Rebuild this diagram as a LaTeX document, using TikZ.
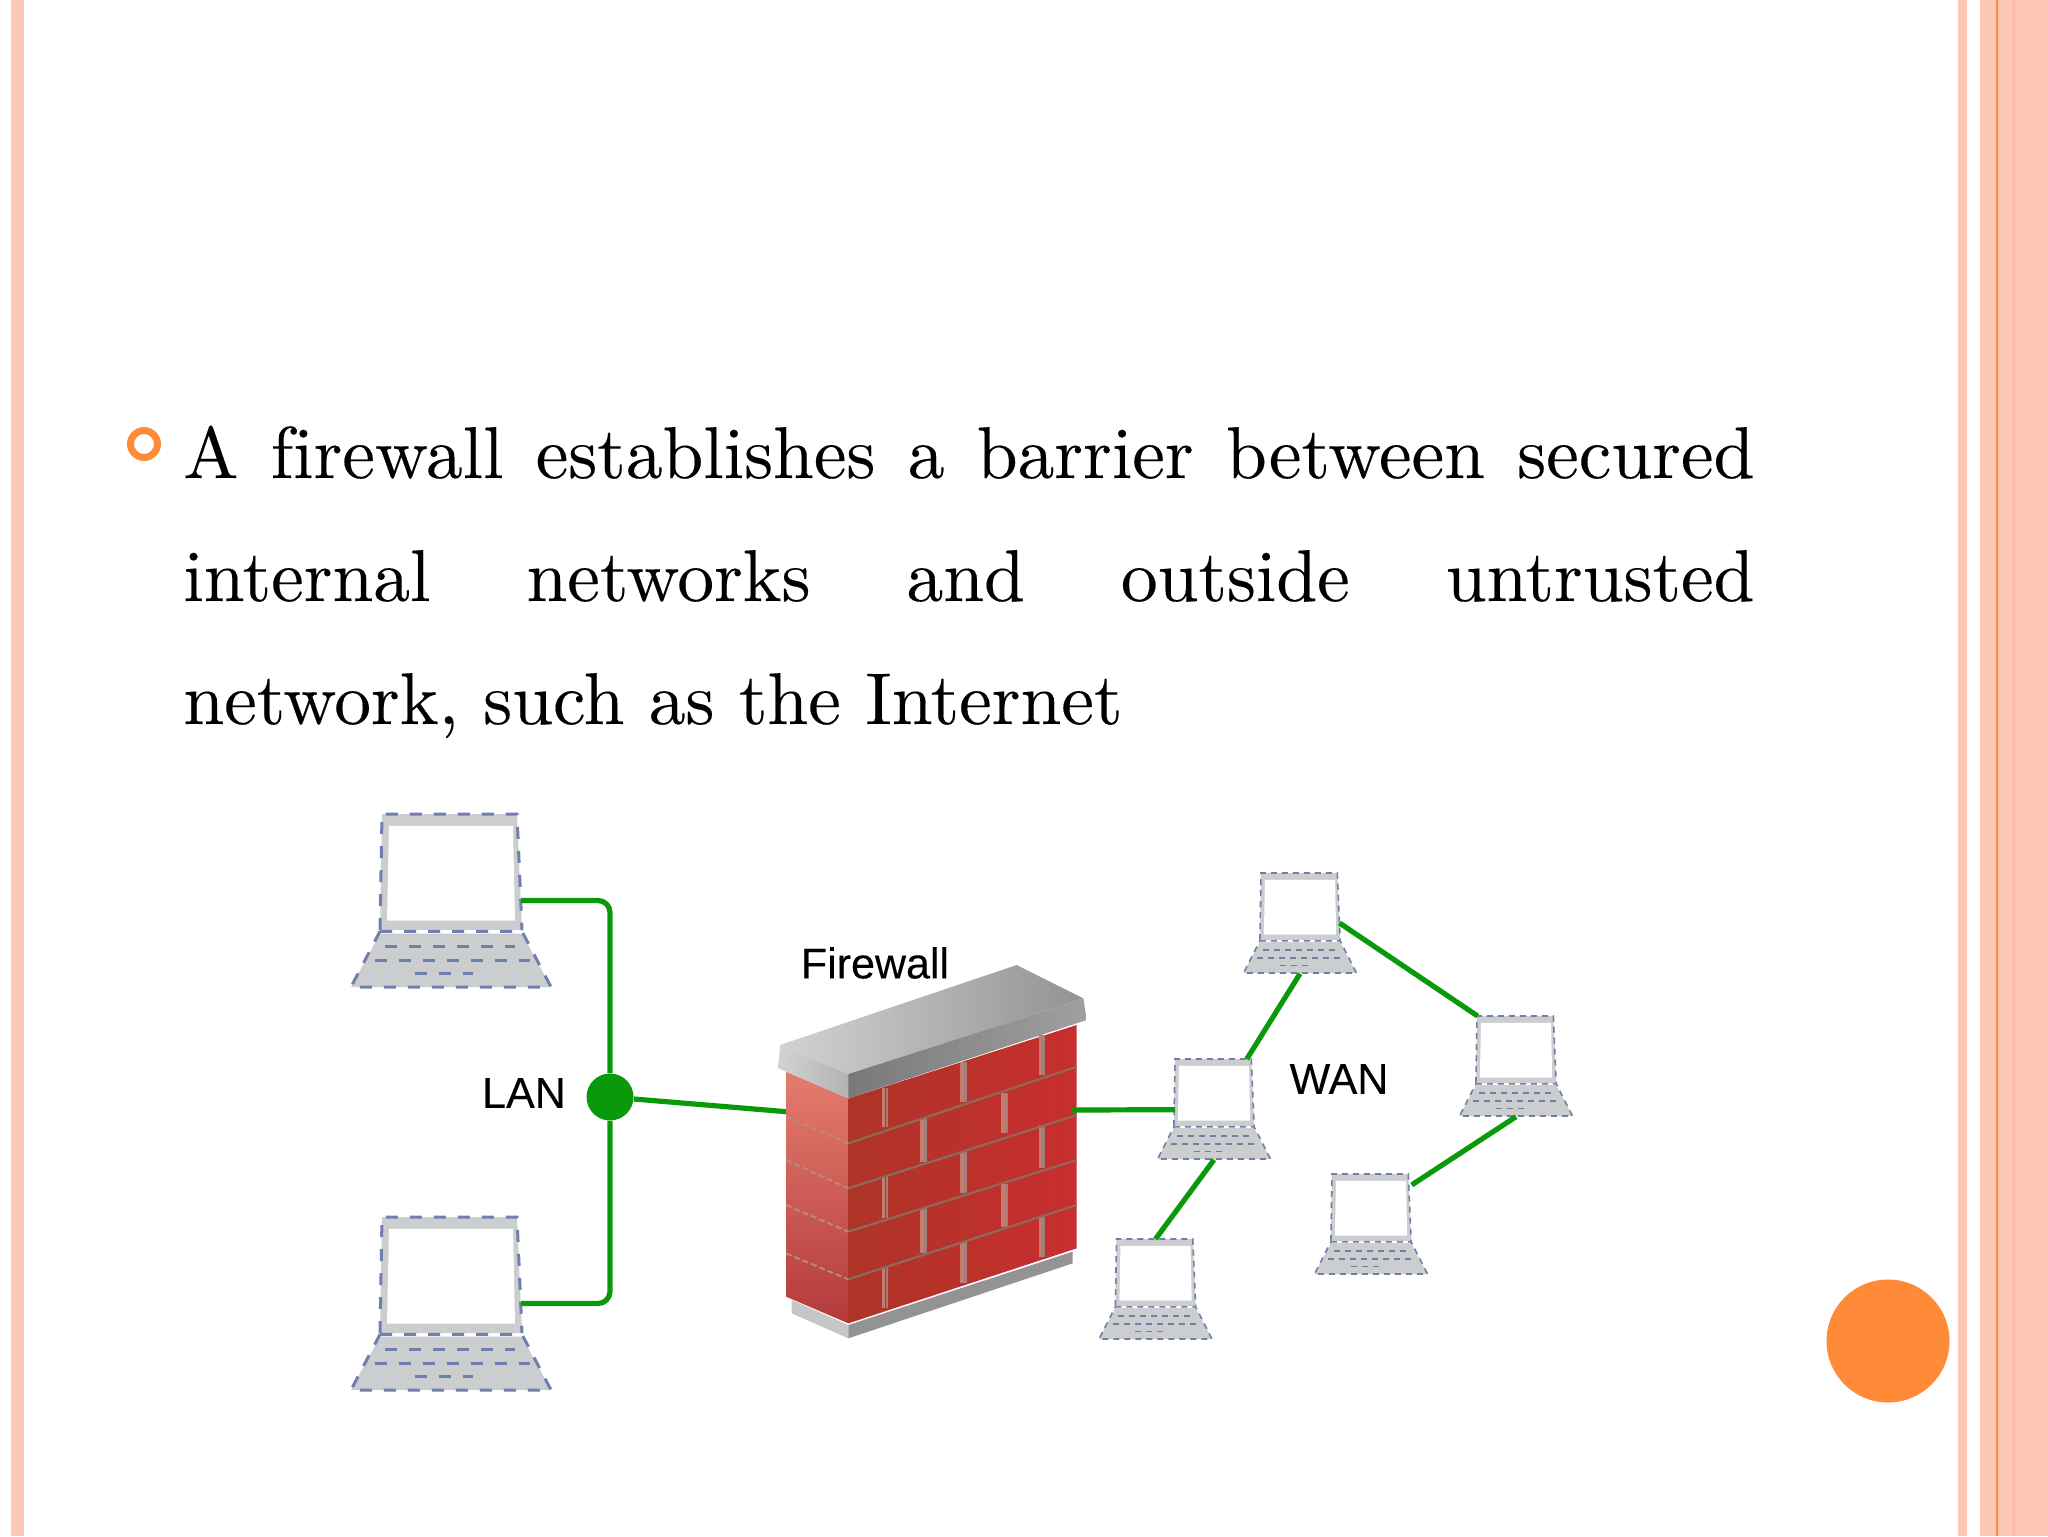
\documentclass[tikz,border=0pt]{standalone}
\usepackage{fontspec}
\newfontfamily\labelfont{Liberation Sans}[FakeBold=0.2]
\newfontfamily\bodyfont{lmroman10-regular.otf}[RawFeature=-liga,FakeBold=0.2]
\usetikzlibrary{shapes.geometric}
\definecolor{peach}{HTML}{FDC8B6}
\definecolor{peachdark}{HTML}{FDBDA6}
\definecolor{accent}{HTML}{FF8A38}
\definecolor{wire}{HTML}{0A990A}
\definecolor{lapgray}{HTML}{CCCDCF}
\definecolor{lapblue}{HTML}{6F7FAE}
\definecolor{jointc}{HTML}{C67A70}
\definecolor{jointd}{HTML}{A08078}
\definecolor{mortar}{HTML}{8E6A5A}
\definecolor{mortarl}{HTML}{B98A78}
\tikzstyle{bar} = [fill=peach]
\tikzstyle{line} = [anchor=base west,inner sep=0pt,font=\bodyfont\fontsize{36.7}{36.7}\selectfont]
\tikzstyle{tag} = [inner sep=0pt,font=\labelfont\fontsize{21.5}{21.5}\selectfont]
\tikzstyle{edge} = [draw=wire,line width=2.6pt]
\tikzstyle{lapdash} = [draw=lapblue,line width=1.5pt,dash pattern=on 6pt off 6pt]
\tikzstyle{big laptop} = [yscale=1.185]
\tikzstyle{small laptop} = [xscale=0.565,yscale=0.685,
  lapdash/.style={draw=lapblue!85!gray,line width=0.8pt,dash pattern=on 3pt off 2.5pt}]
\tikzset{
  pics/laptop/.style={code={
    \fill[lapgray] (-69,0) -- (66,0) -- (71,98) -- (-71,98) -- cycle;
    \fill[white] (-62,10) -- (62,10) -- (64,90) -- (-64,90) -- cycle;
    \draw[lapdash] (-71,98) -- (-69,0) -- (66,0) -- (71,98);
    \fill[lapgray] (-71,101) -- (71,101) -- (100,146) -- (-100,146) -- cycle;
    \draw[lapdash] (-71,99) -- (71,99) -- (100,146) -- (-100,146) -- cycle;
    \draw[lapdash] (-66,112) -- (64,112);
    \draw[lapdash] (-76,124) -- (79,124);
    \draw[lapdash] (-36,135) -- (22,135);
    \coordinate (-n) at (0,0);
    \coordinate (-s) at (0,147);
    \coordinate (-nw) at (-68,0);
    \coordinate (-nne) at (58,0);
    \coordinate (-ene) at (72,16);
    \coordinate (-e) at (70,73);
    \coordinate (-w) at (-69,74);
  }}
}
\begin{document}
\begin{tikzpicture}[x=0.5pt,y=-0.5pt]
  \useasboundingbox (0,0) rectangle (2048,1536);

  % page border
  \fill[bar] (11,0) rectangle (24,1536);
  \fill[bar] (1958,0) rectangle (1967,1536);
  \fill[bar] (1980,0) rectangle (2048,1536);
  \fill[peachdark] (2012,0) rectangle (2016,1536);
  \fill[accent] (1995.5,0) rectangle (1998,1536);
  \node[circle,fill=accent,inner sep=0pt,minimum size=61.5pt] (dot) at (1888,1341) {};

  % text
  \node[circle,draw=accent,line width=3.5pt,inner sep=0pt,minimum size=13.5pt] (bullet) at (144,444) {};
  \node[line] (l1) at (183,478) {\makebox[785.5pt][s]{A firewall establishes a barrier between secured}};
  \node[line] (l2) at (183,601) {\makebox[785.5pt][s]{internal networks and outside untrusted}};
  \node[line] (l3) at (183,724) {network, such as the Internet};

  % laptops
  \pic[big laptop] (pc1) at (451,814) {laptop};
  \pic[big laptop] (pc2) at (451,1217) {laptop};
  \pic[small laptop] (pcA) at (1300,873) {laptop};
  \pic[small laptop] (pcB) at (1214,1059) {laptop};
  \pic[small laptop] (pcC) at (1155.5,1239) {laptop};
  \pic[small laptop] (pcD) at (1516,1016) {laptop};
  \pic[small laptop] (pcE) at (1371,1174) {laptop};

  \node[tag] (lan) at (524,1093) {LAN};
  \node[tag] (wan) at (1339,1079) {WAN};
  \node[tag] (fw) at (875,963) {Firewall};

  % lan side
  \node[circle,fill=wire,inner sep=0pt,minimum size=23.5pt] (hub) at (610,1097) {};
  \coordinate (wallL) at (790,1112);
  \coordinate (wallR) at (1072,1110);
  \draw[edge,rounded corners=6pt] (pc1-e) -| (hub);
  \draw[edge,rounded corners=6pt] (pc2-e) -| (hub);
  \draw[edge] (hub) -- (wallL);

  % wan side
  \draw[edge] (pcA-s) -- (pcB-nne);
  \draw[edge] (pcA-e) -- (pcD-nw);
  \draw[edge] (pcB-s) -- (pcC-n);
  \draw[edge] (pcD-s) -- (pcE-ene);

  % firewall
  \begin{scope}[shift={(760,930)},scale=1/3]
    \fill[gray!45] (95,1110) -- (265,1185) -- (265,1225) -- (95,1150) -- cycle;
    \fill[gray!85] (265,1185) -- (938,965) -- (938,1000) -- (265,1225) -- cycle;
    \definecolor{wlt}{HTML}{E47C6E}
    \definecolor{wlb}{HTML}{B43A3C}
    \definecolor{wrl}{HTML}{AE3428}
    \definecolor{wrr}{HTML}{C82E2E}
    \shade[top color=wlt,bottom color=wlb]
      (78,425) -- (265,505) -- (265,1180) -- (78,1100) -- cycle;
    \shade[left color=wrl,right color=wrr]
      (265,505) -- (950,285) -- (950,955) -- (265,1180) -- cycle;
    \foreach \x/\a/\b in {375/475/590,610/395/515,845/315/435,490/565/695,733/488/610,
      375/740/865,610/665/790,845/585/715,490/835/970,733/762/890,375/1010/1135,610/935/1060,845/860/980} {
      \draw[draw=jointc,line width=1.6pt] (\x-4,\a) -- (\x-4,\b);
      \draw[draw=jointd,line width=1.2pt] (\x+6,\a) -- (\x+6,\b);
    }
    \foreach \a/\b/\c in {560/640/410,690/775/555,825/905/690,970/1048/825} {
      \draw[draw=mortar,line width=1.1pt] (265,\b) -- (950,\c);
      \draw[draw=mortarl,line width=1pt,dash pattern=on 3pt off 1.5pt] (78,\a) -- (265,\b);
    }
    \shade[left color=gray!35,right color=gray!85] (60,345) -- (770,105) -- (970,205) -- (265,432) -- cycle;
    \shade[left color=gray!105,right color=gray!75] (265,432) -- (970,205) -- (980,270) -- (265,505) -- cycle;
    \shade[left color=gray!35,right color=gray!60] (60,345) -- (265,432) -- (265,505) -- (55,415) -- cycle;
  \end{scope}
  \draw[edge] (wallR) -- (pcB-w);
\end{tikzpicture}
\end{document}
